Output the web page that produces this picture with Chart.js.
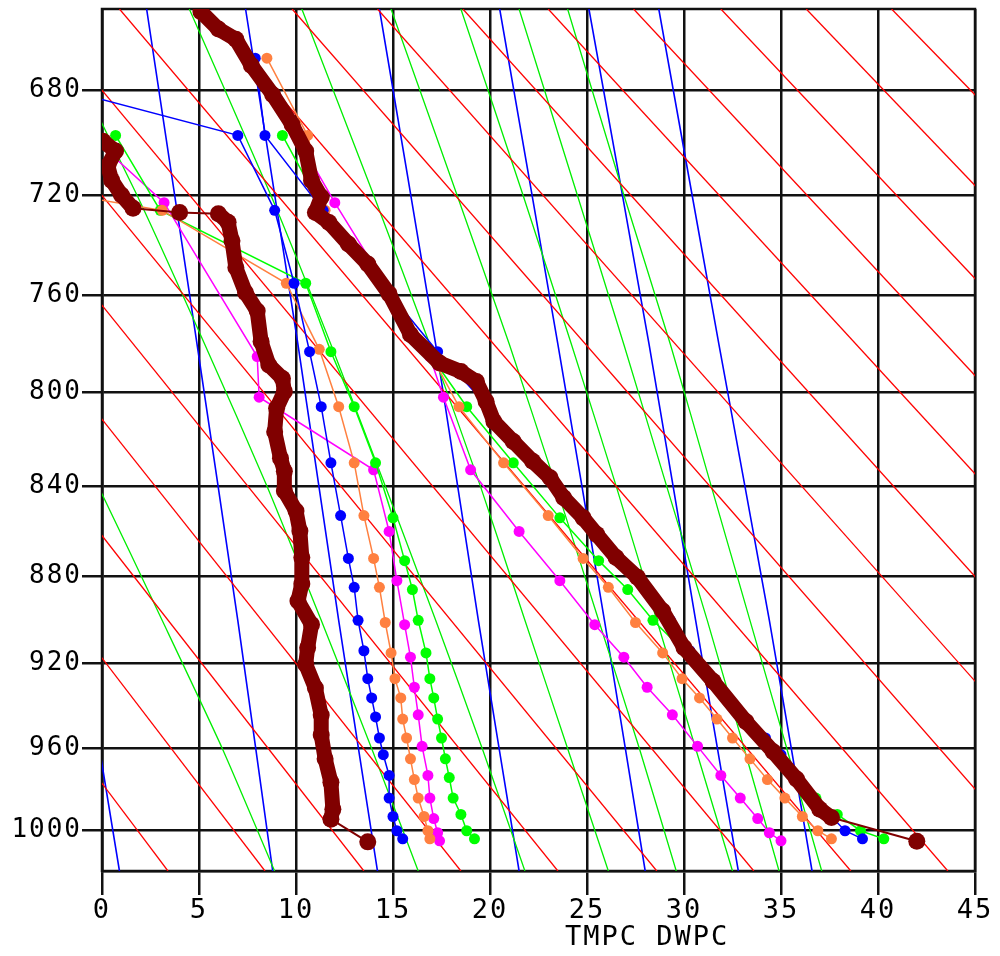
<!DOCTYPE html>
<html>
<head>
<meta charset="utf-8">
<title>TMPC DWPC</title>
<script src="https://cdn.jsdelivr.net/npm/chart.js@4.4.0/dist/chart.umd.min.js"></script>
<style>
  html, body { margin: 0; padding: 0; background: #fff; }
  canvas { display: block; }
</style>
</head>
<body>
<canvas id="soundingChart" width="1000" height="956"></canvas>
<script>
// axis ticks
const PRESSURE_TICKS = [680, 720, 760, 800, 840, 880, 920, 960, 1000];
const X_TITLE = 'TMPC DWPC';

// dry adiabats (red), temperature at 1020 and at 650 hPa
const DRY_T1020 = [3.4, 8.4, 13.5, 18.5, 23.5, 28.6, 33.6, 38.6, 43.6, 48.7, 53.7, 58.7, 63.8, 68.8, 73.8, 78.8, 83.9];
const DRY_T650 = [-30.0, -25.6, -21.2, -16.8, -12.3, -7.9, -3.5, 0.9, 5.3, 9.8, 14.2, 18.6, 23.0, 27.4, 31.9, 36.3, 40.7];

// moist adiabats (green)
const MOIST_P = [1020, 960, 900, 840, 780, 720, 650];
const MOIST_T = [
    [8.9, 6.2, 3.1, -0.2, -3.9, -8.1, -13.6],
    [16.3, 13.9, 11.3, 8.5, 5.3, 1.8, -2.9],
    [21.8, 19.6, 17.2, 14.6, 11.8, 8.7, 4.5],
    [26.1, 24.0, 21.8, 19.5, 16.9, 14.0, 10.3],
    [29.6, 27.7, 25.6, 23.4, 21.0, 18.3, 14.9],
    [32.5, 30.6, 28.6, 26.5, 24.2, 21.7, 18.5],
    [34.9, 33.1, 31.2, 29.1, 26.9, 24.5, 21.5],
    [37.1, 35.3, 33.4, 31.4, 29.3, 26.9, 24.0]
];

// mixing ratio lines (blue)
const MIX_P = [1020, 900, 780, 650];
const MIX_T = [
    [0.9, -1.2, -3.3, -6.0],
    [8.8, 7.0, 4.9, 2.3],
    [14.2, 12.2, 10.1, 7.4],
    [21.5, 19.4, 17.2, 14.3],
    [28.0, 25.9, 23.5, 20.5],
    [32.8, 30.6, 28.2, 25.1],
    [36.6, 34.4, 31.8, 28.7]
];

// observed sounding (dark red)
const OBS_T_P = [651, 657.3, 661, 670.7, 681.6, 692.9, 703, 714.3, 720.8, 726.8, 730.8, 739.3, 747.3, 759.3, 775.9, 787.7, 791.2, 795.4, 803.8, 812.3, 820.8, 829.3, 836.5, 845.2, 854, 861.3, 871.6, 880.5, 895.8, 912.6, 928.2, 947.3, 961.6, 974.7, 989.4, 993.5, 1005.2];
const OBS_T = [5.1, 6.0, 6.9, 7.7, 8.8, 9.8, 10.5, 10.8, 11.3, 11.0, 11.7, 12.7, 13.7, 14.8, 15.9, 17.4, 18.5, 19.3, 19.8, 20.2, 21.2, 22.2, 23.1, 23.8, 24.8, 25.5, 26.5, 27.6, 28.9, 30.0, 31.5, 33.2, 34.6, 35.8, 37.0, 37.6, 42.0];
const OBS_TD_P = [699.2, 703, 708.7, 714.3, 720, 725.2, 726.8, 727.3, 730.7, 738, 748.7, 758.8, 766.3, 778.8, 788.5, 794.1, 799.6, 806.7, 816.6, 828, 833.6, 842.2, 851, 859.8, 871.6, 883.5, 891.2, 901.9, 912.6, 920.3, 931.4, 944.1, 953.6, 964.9, 976.3, 989.4, 994.3, 1005.5];
const OBS_TD = [0.05, 0.7, 0.3, 0.5, 1.0, 1.6, 4.0, 6.0, 6.5, 6.7, 6.9, 7.4, 8.0, 8.2, 8.6, 9.3, 9.4, 9.0, 8.9, 9.2, 9.4, 9.4, 10.0, 10.2, 10.3, 10.3, 10.1, 10.8, 10.6, 10.5, 11.0, 11.3, 11.3, 11.5, 11.8, 11.9, 11.8, 13.7];

// forecast soundings
const BLUE_P = [668, 697, 726, 755, 783, 806, 830, 853, 872, 885, 900, 914, 927, 936, 945, 955, 963, 973, 984, 993, 1000, 1004];
const BLUE_T = [7.9, 8.4, 11.4, 14.4, 17.3, 19.9, 22.3, 24.6, 26.5, 28.0, 29.3, 30.3, 31.4, 32.2, 33.1, 34.2, 35.0, 35.7, 36.5, 37.6, 38.3, 39.2];
const BLUE_TD = [-8.1, 7.0, 8.9, 9.9, 10.7, 11.3, 11.8, 12.3, 12.7, 13.0, 13.2, 13.5, 13.7, 13.9, 14.1, 14.3, 14.5, 14.8, 14.8, 15.0, 15.2, 15.5];

const ORANGE_P = [668, 697, 726, 755, 782, 806, 830, 853, 872, 885, 901, 915, 927, 936, 946, 955, 965, 975, 984, 993, 1000, 1004];
const ORANGE_T = [8.5, 10.6, 11.5, 14.4, 16.8, 18.4, 20.7, 23.0, 24.8, 26.1, 27.5, 28.9, 29.9, 30.8, 31.7, 32.5, 33.4, 34.3, 35.2, 36.1, 36.9, 37.6];
const ORANGE_TD = [null, -20, 3.1, 9.5, 11.2, 12.2, 13.0, 13.5, 14.0, 14.3, 14.6, 14.9, 15.1, 15.4, 15.5, 15.7, 15.9, 16.1, 16.3, 16.6, 16.8, 16.9];

const GREEN_P = [697, 726, 755, 783, 806, 830, 854, 873, 886, 900, 915, 927, 936, 946, 955, 965, 974, 984, 992, 1000, 1004];
const GREEN_T = [9.3, 11.4, 14.4, 16.8, 18.8, 21.2, 23.6, 25.6, 27.1, 28.4, 30.1, 31.4, 32.2, 33.1, 34.0, 34.8, 35.8, 36.8, 37.9, 39.1, 40.3];
const GREEN_TD = [0.7, 3.0, 10.5, 11.8, 13.0, 14.1, 15.0, 15.6, 16.0, 16.3, 16.7, 16.9, 17.1, 17.3, 17.5, 17.7, 17.9, 18.1, 18.5, 18.8, 19.2];

const MAGENTA_P = [697, 723, 785, 802, 833, 860, 882, 902, 917, 931, 944, 959, 973, 984, 994, 1001, 1005];
const MAGENTA_T = [10.0, 12.0, 16.9, 17.6, 19.0, 21.5, 23.6, 25.4, 26.9, 28.1, 29.4, 30.7, 31.9, 32.9, 33.8, 34.4, 35.0];
const MAGENTA_TD = [-0.6, 3.2, 8.0, 8.1, 14.0, 14.8, 15.2, 15.6, 15.9, 16.1, 16.3, 16.5, 16.8, 16.9, 17.1, 17.3, 17.4];

// y axis is linear in p^kappa (Stuve diagram)
const KAPPA = 0.286;

class StuveScale extends Chart.LinearScale {
    getPixelForValue(value) {
        if (value === null || value === undefined) return NaN;
        var a = Math.pow(this.min, KAPPA);
        var b = Math.pow(this.max, KAPPA);
        return this.getPixelForDecimal((Math.pow(value, KAPPA) - a) / (b - a));
    }
    getValueForPixel(pixel) {
        var a = Math.pow(this.min, KAPPA);
        var b = Math.pow(this.max, KAPPA);
        return Math.pow(a + this.getDecimalForPixel(pixel) * (b - a), 1 / KAPPA);
    }
}
StuveScale.id = 'stuve';
StuveScale.defaults = Chart.LinearScale.defaults;
Chart.register(StuveScale);

function toPoints(pres, temps) {
    var out = [];
    pres.forEach(function (p, i) {
        if (temps[i] !== null) out.push({ x: temps[i], y: p });
    });
    return out;
}

function guideLine(points, color, width, tension) {
    return {
        data: points,
        borderColor: color,
        borderWidth: width,
        pointRadius: 0,
        tension: tension,
        order: 10,
        clip: 0
    };
}

function profile(points, color) {
    return {
        data: points,
        borderColor: color,
        backgroundColor: color,
        borderWidth: 1.5,
        pointRadius: 5.5,
        pointBorderWidth: 0,
        pointBackgroundColor: color,
        order: 3,
        clip: 0
    };
}

function thickProfile(points, color) {
    return {
        data: points,
        borderColor: color,
        borderWidth: 15,
        borderCapStyle: 'round',
        borderJoinStyle: 'round',
        pointRadius: 8.5,
        pointBorderWidth: 0,
        pointBackgroundColor: color,
        order: 1,
        clip: 0,
        segment: {
            // sparse, flat stretches are drawn with a thin line
            borderWidth: function (ctx) {
                var dx = ctx.p1.x - ctx.p0.x;
                var dy = ctx.p1.y - ctx.p0.y;
                var dist = Math.sqrt(dx * dx + dy * dy);
                return (dist > 35 && Math.abs(dy) < 0.7 * Math.abs(dx)) ? 2 : 15;
            }
        }
    };
}

document.addEventListener('DOMContentLoaded', function () {
    var datasets = [];

    DRY_T1020.forEach(function (t, i) {
        datasets.push(guideLine([{ x: t, y: 1020 }, { x: DRY_T650[i], y: 650 }], '#ff0000', 1.3, 0));
    });
    MOIST_T.forEach(function (temps) {
        datasets.push(guideLine(toPoints(MOIST_P, temps), '#00ee00', 1.3, 0.2));
    });
    MIX_T.forEach(function (temps) {
        datasets.push(guideLine(toPoints(MIX_P, temps), '#0000ff', 1.6, 0.2));
    });

    datasets.push(profile(toPoints(BLUE_P, BLUE_T), '#0000ff'));
    datasets.push(profile(toPoints(BLUE_P, BLUE_TD), '#0000ff'));
    datasets.push(profile(toPoints(ORANGE_P, ORANGE_T), '#ff8040'));
    datasets.push(profile(toPoints(ORANGE_P, ORANGE_TD), '#ff8040'));
    datasets.push(profile(toPoints(GREEN_P, GREEN_T), '#00ff00'));
    datasets.push(profile(toPoints(GREEN_P, GREEN_TD), '#00ff00'));
    datasets.push(profile(toPoints(MAGENTA_P, MAGENTA_T), '#ff00ff'));
    datasets.push(profile(toPoints(MAGENTA_P, MAGENTA_TD), '#ff00ff'));
    datasets.push(thickProfile(toPoints(OBS_T_P, OBS_T), '#800000'));
    datasets.push(thickProfile(toPoints(OBS_TD_P, OBS_TD), '#800000'));

    var frame = {
        id: 'frame',
        beforeDraw: function (chart) {
            chart.ctx.letterSpacing = '2px';
        },
        beforeDatasetsDraw: function (chart) {
            var a = chart.chartArea;
            var ctx = chart.ctx;
            ctx.save();
            ctx.strokeStyle = '#111';
            ctx.lineWidth = 2.5;
            ctx.strokeRect(a.left, a.top, a.right - a.left, a.bottom - a.top);
            ctx.restore();
        },
        afterDraw: function (chart) {
            var ctx = chart.ctx;
            var x = chart.scales.x;
            ctx.save();
            ctx.font = '27px "DejaVu Sans Mono"';
            ctx.fillStyle = '#000';
            ctx.textAlign = 'center';
            ctx.textBaseline = 'middle';
            ctx.fillText(X_TITLE, x.getPixelForValue(28.1), x.bottom - 18);
            ctx.restore();
        }
    };

    var ctx = document.getElementById('soundingChart').getContext('2d');
    new Chart(ctx, {
        type: 'line',
        data: { datasets: datasets },
        options: {
            responsive: false,
            animation: false,
            events: [],
            layout: { padding: { top: 9, right: 25, left: 0, bottom: 0 } },
            plugins: {
                legend: { display: false },
                tooltip: { enabled: false }
            },
            scales: {
                x: {
                    type: 'linear',
                    min: 0,
                    max: 45,
                    bounds: 'data',
                    afterFit: function (scale) {
                        scale.height = 85;
                        scale.paddingLeft = 0;
                        scale.paddingRight = 0;
                    },
                    grid: { color: '#111', lineWidth: 2.5, tickLength: 24, tickColor: '#111' },
                    border: { color: '#111', width: 2.5 },
                    ticks: {
                        stepSize: 5,
                        autoSkip: false,
                        maxRotation: 0,
                        padding: 0,
                        color: '#000',
                        font: { family: 'DejaVu Sans Mono', size: 27 }
                    }
                },
                y: {
                    type: 'stuve',
                    min: 650,
                    max: 1020,
                    reverse: true,
                    bounds: 'data',
                    afterFit: function (scale) {
                        scale.width = 102;
                        scale.paddingTop = 0;
                        scale.paddingBottom = 0;
                    },
                    afterBuildTicks: function (scale) {
                        scale.ticks = PRESSURE_TICKS.map(function (v) { return { value: v }; });
                    },
                    grid: { color: '#111', lineWidth: 2.5, tickLength: 20, tickColor: '#111' },
                    border: { color: '#111', width: 2.5 },
                    ticks: {
                        autoSkip: false,
                        padding: 0,
                        color: '#000',
                        font: { family: 'DejaVu Sans Mono', size: 26 },
                        callback: function (value) { return String(value); }
                    }
                }
            }
        },
        plugins: [frame]
    });
});
</script>
</body>
</html>
